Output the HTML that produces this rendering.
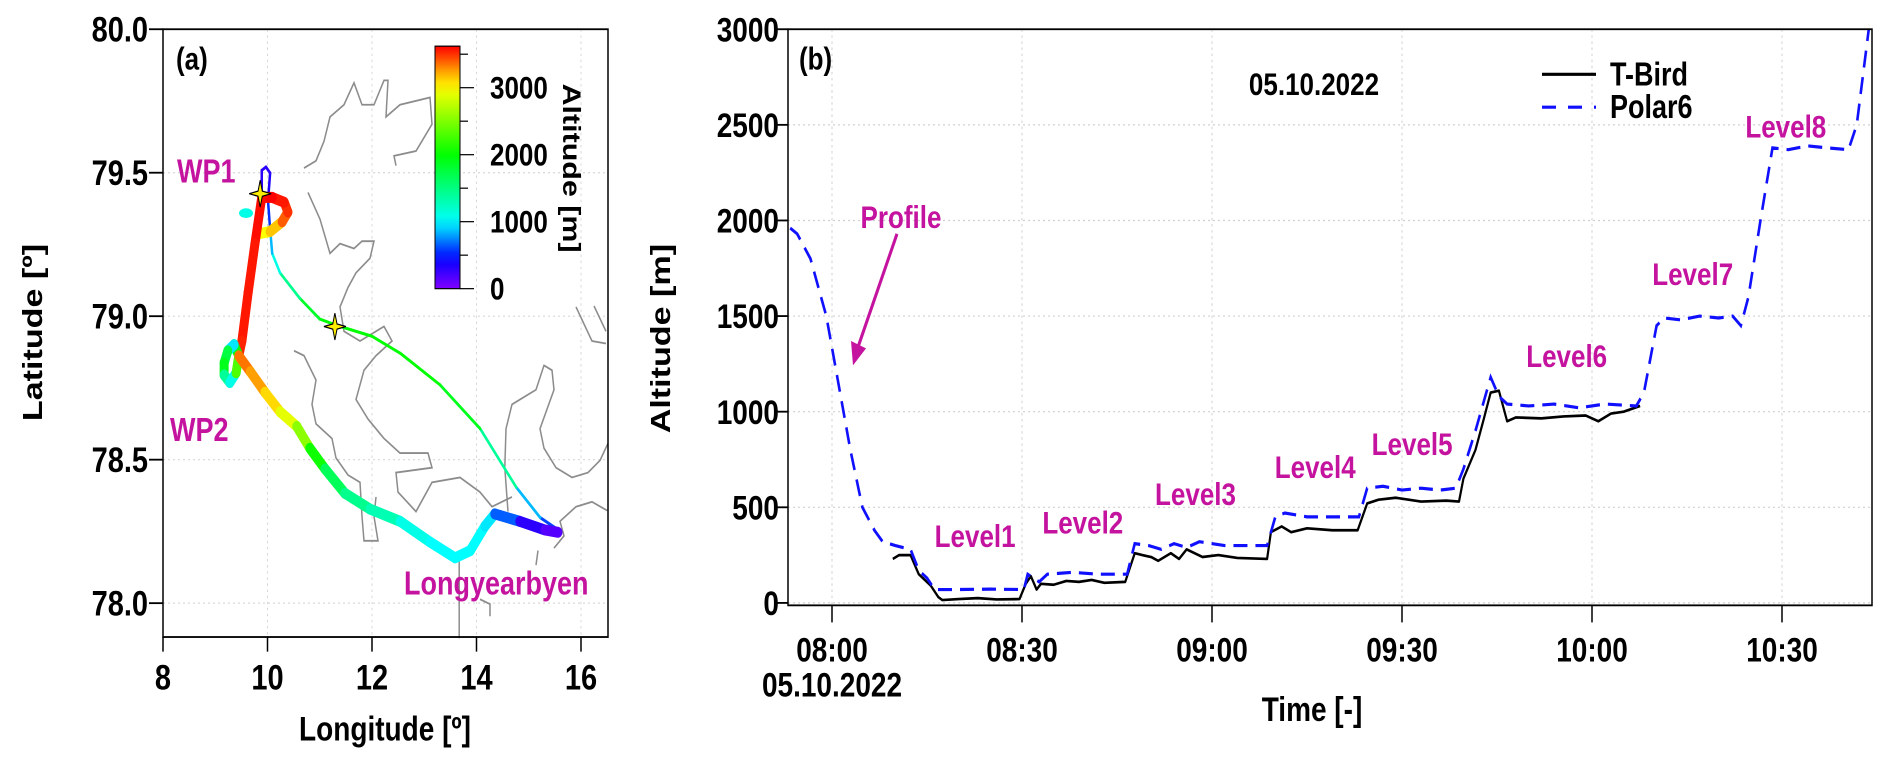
<!DOCTYPE html>
<html><head><meta charset="utf-8"><style>
html,body{margin:0;padding:0;background:#fff;}
svg{display:block;font-family:"Liberation Sans",Arial,sans-serif;font-weight:bold;}
</style></head><body>
<svg id="fig" width="1892" height="763" viewBox="0 0 1892 763" xmlns="http://www.w3.org/2000/svg">
<g transform="scale(1,1.218)">
<g id="pa"></g>
<g id="pb"></g>
</g>
</svg>
<script>
// ---------- Panel A data ----------
const thinLon=[15.60,15.22,14.76,14.07,13.30,12.54,12.00,11.31,11.00,10.62,10.24,10.09,10.05,10.01,10.05,9.97,9.89,9.89];
const thinLat=[78.251,78.298,78.404,78.608,78.761,78.871,78.930,78.969,78.990,79.062,79.151,79.219,79.304,79.402,79.499,79.520,79.508,79.423];
const thinAlt=[500,700,1000,1800,2000,2000,2000,2000,2000,1700,1200,1000,700,400,300,300,300,300];
const thickLon=[9.82,10.05,10.28,10.39,10.32,10.09,9.89,9.76,9.63,9.51,9.45,9.36,9.24,9.17,9.17,9.28,9.40,9.45,9.67,9.95,10.24,10.56,10.81,11.10,11.48,11.96,12.54,13.11,13.59,13.88,14.16,14.35,14.83,15.31,15.56];
const thickLat=[79.287,79.295,79.329,79.363,79.397,79.414,79.414,79.253,79.083,78.913,78.862,78.901,78.879,78.837,78.795,78.769,78.803,78.862,78.807,78.735,78.667,78.616,78.540,78.468,78.383,78.328,78.285,78.213,78.158,78.183,78.268,78.311,78.285,78.255,78.247];
const thickAlt=[3000,3000,3300,3500,3500,3600,3600,3550,3550,3550,3500,400,1500,2000,1800,1000,1200,3400,3300,3200,3000,2800,2300,1800,1500,1400,1200,1000,1000,1000,1000,900,400,200,100];
const starLon=[9.86,11.29];
const starLat=[79.427,78.964];
const lonTicks=[8,10,12,14,16];
const latTicks=[78.0,78.5,79.0,79.5,80.0];
const cbTicks=[0,1000,2000,3000];

// ---------- Panel B data ----------
const timeTicks=[0,30,60,90,120,150];
const timeLabels=["08:00","08:30","09:00","09:30","10:00","10:30"];
const altTicks=[0,500,1000,1500,2000,2500,3000];
const polarT=[-6.6,-5.5,-3.4,-0.9,1,2.9,4.8,6.7,8,10,12.4,13.7,15,16.2,20,25,30.3,30.9,32.7,34,38,42,46.6,47.8,50,52,54,56,58,62,65,68.7,70,71.5,75,79,83.2,84.5,87,90,93,96,98.5,99.7,101.6,104,105.3,106.6,110,114,118,122,127,128.2,130.2,131.4,134,137,140,142.2,143.5,144.7,146.6,148.5,151,154,157,160.5,161.8,163.7];
const polarV=[1960,1930,1800,1500,1150,800,500,380,320,300,280,170,130,70,70,72,70,150,110,150,160,150,150,310,300,280,310,290,320,300,300,300,450,470,450,450,450,600,610,590,600,590,600,700,900,1180,1080,1040,1030,1040,1020,1040,1030,1100,1450,1490,1480,1500,1490,1500,1450,1600,2000,2380,2370,2390,2380,2370,2500,3000];
const birdT=[9.6,10.6,12.4,13.7,15.6,16.8,17.4,20,23,26,29.6,30.6,31.4,32.3,33,35,37,39,41,43,46.3,47.8,49,50.4,51.5,53.5,54.8,56,58.5,61,64,68.7,69.3,71,72.5,75,79,83,84.5,86.3,89,93,97,99,99.7,101.6,102.9,104,105.3,106.6,108,112,115.5,119,121,123,125,127.6];
const birdV=[230,250,250,150,90,30,15,20,25,18,20,100,140,70,100,95,115,110,120,105,110,260,250,240,220,260,230,280,240,250,235,230,370,400,370,390,380,380,520,540,550,530,535,530,650,800,960,1100,1110,950,970,965,975,980,950,990,1000,1030];
const levelNames=["Level1","Level2","Level3","Level4","Level5","Level6","Level7","Level8"];
const levelT=[22.6,39.6,57.4,76.3,91.6,116,135.9,150.6];
const levelV=[350,420,570,710,830,1290,1720,2490];

const NS="http://www.w3.org/2000/svg";
function mk(parent,tag,attrs){const e=document.createElementNS(NS,tag);for(const k in attrs)e.setAttribute(k,attrs[k]);parent.appendChild(e);return e;}
function txt(parent,x,y,s,attrs){const e=mk(parent,'text',Object.assign({x:x,y:y},attrs||{}));e.textContent=s;return e;}
const MAG="#c4139e";

const cmS=[[0,[128,0,255]],[450,[0,0,255]],[1000,[0,255,255]],[2000,[0,255,0]],[3000,[255,255,0]],[3300,[255,140,0]],[3600,[255,0,0]]];
function cmap(v){if(v<=0)return 'rgb(128,0,255)';for(let i=1;i<cmS.length;i++){if(v<=cmS[i][0]){const a=cmS[i-1],b=cmS[i];const f=(v-a[0])/(b[0]-a[0]);const c=a[1].map((q,j)=>Math.round(q+(b[1][j]-q)*f));return `rgb(${c})`;}}return 'rgb(255,0,0)';}

// ===== Panel A =====
const pa=document.getElementById('pa');
const aL=163,aR=608,aT=24,aB=523;
const lx=v=>163+(v-8)*52.25;
const ly=v=>24+(80-v)*235.6;
latTicks.forEach(v=>{const g=mk(pa,'line',{x1:aL,x2:aR,y1:ly(v),y2:ly(v),stroke:'#d8d8d8','stroke-dasharray':'2,3'});});
lonTicks.forEach(v=>{const g=mk(pa,'line',{x1:lx(v),x2:lx(v),y1:aT,y2:aB,stroke:'#d8d8d8','stroke-dasharray':'2,3'});});
const coasts=[
[[760,345],[790,330],[810,290],[825,240],[860,215],[885,170],[905,215],[935,215],[960,165],[970,165],[965,240],[1000,215],[1075,200],[1080,255],[1040,310],[985,320],[990,340]],
[[770,395],[800,450],[825,520],[850,500],[885,510],[905,495],[935,495],[925,530],[890,560],[870,590],[850,630],[860,680],[900,700],[960,670],[980,700],[940,730],[910,760],[890,820],[920,860],[960,900],[1000,930],[1070,930],[1080,960],[990,970],[995,1010],[1040,1050],[1060,1020],[1080,990],[1150,980],[1200,1010],[1230,1040],[1280,1020]],
[[735,720],[760,730],[790,780],[780,830],[790,870],[830,900],[840,940],[870,975],[900,990],[905,1060],[910,1110],[945,1110],[935,1060],[940,1020]],
[[1440,630],[1480,700],[1515,705]],[[1485,628],[1515,680]],
[[1520,910],[1500,945],[1470,970],[1430,980],[1390,960],[1360,920],[1350,880],[1385,800],[1380,760],[1360,750],[1340,800],[1310,815],[1280,830],[1265,880],[1262,960],[1270,1050]],
[[1385,1125],[1410,1100],[1400,1070],[1440,1040],[1480,1030],[1518,1048]],
[[1345,1130],[1340,1160]],
[[1148,1140],[1148,1310]],[[1200,1230],[1225,1240],[1225,1265]]
];
coasts.forEach(c=>{const p=mk(pa,'polyline',{points:c.map(q=>(q[0]/2.5)+','+(q[1]/2.5)).join(' '),fill:'none',stroke:'#8c8c8c','stroke-width':1.5});});
for(let i=0;i<thinLon.length-1;i++){const s=mk(pa,'line',{x1:lx(thinLon[i]),y1:ly(thinLat[i]),x2:lx(thinLon[i+1]),y2:ly(thinLat[i+1]),stroke:cmap((thinAlt[i]+thinAlt[i+1])/2),'stroke-width':2.5,'stroke-linecap':'round'});}
for(let i=0;i<thickLon.length-1;i++){const s=mk(pa,'line',{x1:lx(thickLon[i]),y1:ly(thickLat[i]),x2:lx(thickLon[i+1]),y2:ly(thickLat[i+1]),stroke:cmap((thickAlt[i]+thickAlt[i+1])/2),'stroke-width':9,'stroke-linecap':'round'});}
{const b=mk(pa,'ellipse',{cx:246,cy:175,rx:7,ry:4,fill:cmap(1100)});}
starLon.forEach((v,i)=>{const x=lx(v),y=ly(starLat[i]),r=11,r2=3;let pts=[];for(let k=0;k<8;k++){const a=k*Math.PI/4-Math.PI/2;const rr=k%2?r2:r;pts.push((x+rr*Math.cos(a))+','+(y+rr*Math.sin(a)));}const s=mk(pa,'polygon',{points:pts.join(' '),fill:'#ffee00',stroke:'#000','stroke-width':1});});
{const f=mk(pa,'rect',{x:aL,y:aT,width:aR-aL,height:aB-aT,fill:'none',stroke:'#000','stroke-width':1.5});}
latTicks.forEach(v=>{mk(pa,'line',{x1:aL-14,x2:aL,y1:ly(v),y2:ly(v),stroke:'#000','stroke-width':1.5});const t=txt(pa,148,ly(v)+10,v.toFixed(1),{'font-size':29,'text-anchor':'end'});});
lonTicks.forEach(v=>{mk(pa,'line',{x1:lx(v),x2:lx(v),y1:aB,y2:aB+12,stroke:'#000','stroke-width':1.5});const t=txt(pa,lx(v),566,String(v),{'font-size':29,'text-anchor':'middle'});});
{let t=txt(pa,0,0,'Latitude [º]',{'font-size':28,'text-anchor':'middle',transform:'translate(42,273) rotate(-90)'});
t=txt(pa,385,608,'Longitude [º]',{'font-size':28,'text-anchor':'middle'});
t=txt(pa,176,57,'(a)',{'font-size':26});
t=txt(pa,177,150,'WP1',{'font-size':27,fill:MAG});
t=txt(pa,170,362,'WP2',{'font-size':27,fill:MAG});
t=txt(pa,404,488,'Longyearbyen',{'font-size':27,fill:MAG});}
{const defs=mk(pa,'defs',{});const lg=mk(defs,'linearGradient',{id:'cbg',x1:0,y1:1,x2:0,y2:0});
const top=3620;for(let k=0;k<=20;k++){const v=top*k/20;mk(lg,'stop',{offset:(k/20),'stop-color':cmap(v)});}
const cbx=435,cbw=25,cb0=237,cbS=55/1000,cbTop=cb0-top*cbS;
const r=mk(pa,'rect',{x:cbx,y:cbTop,width:cbw,height:cb0-cbTop,fill:'url(#cbg)',stroke:'#000','stroke-width':1});
for(let v=0;v<=3500;v+=500){mk(pa,'line',{x1:cbx+cbw,x2:cbx+cbw+(v%1000?8:14),y1:cb0-v*cbS,y2:cb0-v*cbS,stroke:'#000','stroke-width':1});}
cbTicks.forEach(v=>{const t=txt(pa,490,cb0-v*cbS+9,String(v),{'font-size':26});});
const t=txt(pa,0,0,'Altitude [m]',{'font-size':25,'text-anchor':'middle',transform:'translate(563,138) rotate(90)'});}

// ===== Panel B =====
const pb=document.getElementById('pb');
const bL=788,bR=1872,bT=24,bB=497;
const tx=t=>832+t*190/30;
const vy=v=>495-v*471/3000;
altTicks.forEach(v=>{const g=mk(pb,'line',{x1:bL,x2:bR,y1:vy(v),y2:vy(v),stroke:'#d0d0d0','stroke-dasharray':'2,3'});});
timeTicks.forEach(v=>{const g=mk(pb,'line',{x1:tx(v),x2:tx(v),y1:bT,y2:bB,stroke:'#d0d0d0','stroke-dasharray':'2,3'});});
{const p=mk(pb,'polyline',{points:birdT.map((t,i)=>tx(t)+','+vy(birdV[i])).join(' '),fill:'none',stroke:'#000','stroke-width':2.2,'stroke-linejoin':'round'});
const q=mk(pb,'polyline',{points:polarT.map((t,i)=>tx(t)+','+vy(polarV[i])).join(' '),fill:'none',stroke:'#1010ff','stroke-width':2.6,'stroke-dasharray':'14,8'});}
{const f=mk(pb,'rect',{x:bL,y:bT,width:bR-bL,height:bB-bT,fill:'none',stroke:'#000','stroke-width':1.5});}
altTicks.forEach(v=>{mk(pb,'line',{x1:bL-12,x2:bL,y1:vy(v),y2:vy(v),stroke:'#000','stroke-width':1.5});const t=txt(pb,779,vy(v)+10,String(v),{'font-size':28,'text-anchor':'end'});});
timeTicks.forEach((v,i)=>{mk(pb,'line',{x1:tx(v),x2:tx(v),y1:bB,y2:bB+14,stroke:'#000','stroke-width':1.5});const t=txt(pb,tx(v),543,timeLabels[i],{'font-size':28,'text-anchor':'middle'});});
{let t=txt(pb,832,572,'05.10.2022',{'font-size':28,'text-anchor':'middle'});
t=txt(pb,1312,592,'Time [-]',{'font-size':28,'text-anchor':'middle'});
t=txt(pb,0,0,'Altitude [m]',{'font-size':28,'text-anchor':'middle',transform:'translate(670,278) rotate(-90)'});
t=txt(pb,799,57,'(b)',{'font-size':26});
t=txt(pb,1314,78,'05.10.2022',{'font-size':26,'text-anchor':'middle'});
const lg=mk(pb,'g',{});
mk(lg,'line',{x1:1542,x2:1596,y1:61,y2:61,stroke:'#000','stroke-width':2.5});
mk(lg,'line',{x1:1542,x2:1596,y1:88,y2:88,stroke:'#1010ff','stroke-width':2.5,'stroke-dasharray':'14,12'});
t=txt(lg,1610,70,'T-Bird',{'font-size':27});
t=txt(lg,1610,97,'Polar6',{'font-size':27});}
levelNames.forEach((n,i)=>{const t=txt(pb,tx(levelT[i]),vy(levelV[i])+9,n,{'font-size':26,fill:MAG,'text-anchor':'middle'});});
{const t=txt(pb,901,187,'Profile',{'font-size':26,fill:MAG,'text-anchor':'middle'});
const a=mk(pb,'g',{});
mk(a,'line',{x1:897,y1:192,x2:858,y2:285,stroke:MAG,'stroke-width':3});
mk(a,'polygon',{points:'853,300 851,280 866,286',fill:MAG});}
</script>
</body></html>
